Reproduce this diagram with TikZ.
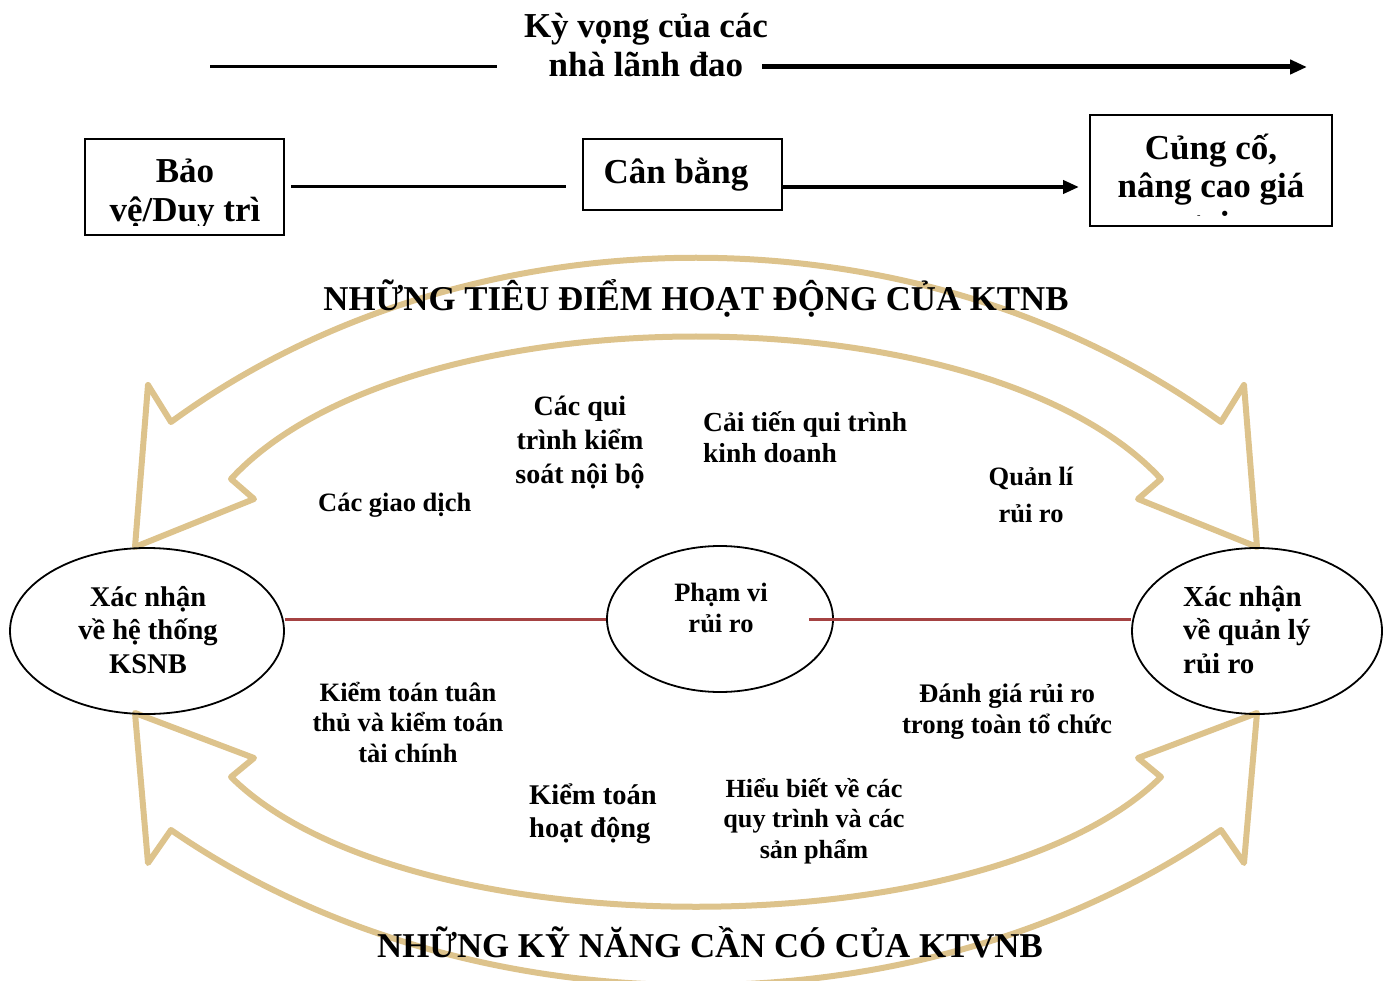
\documentclass[tikz,border=0pt]{standalone}
\usepackage{fontspec}
\setmainfont{Liberation Serif}
\usetikzlibrary{arrows.meta,shapes.geometric}
\definecolor{bandtan}{RGB}{221,195,140}
\definecolor{linkred}{RGB}{165,66,66}
\begin{document}
% multi-line nodes are placed by the baseline of their last line
\begin{tikzpicture}[x=1pt,y=-1pt,
  txt/.style={inner sep=0pt, anchor=base, align=center},
  big/.style={txt, font=\fontsize{35}{39}\selectfont\bfseries},
  framebox/.style={draw=black, line width=2pt, inner sep=0pt, fill=none},
  oval/.style={ellipse, draw=black, line width=1.8pt, inner sep=0pt},
  band/.style={draw=bandtan, line width=6pt, line join=round, line cap=round},
  redlink/.style={draw=linkred, line width=3pt},
  lead/.style={draw=black, line width=3pt},
  leadarrow/.style={draw=black, line width=5pt, -{Triangle[length=17pt,width=14pt]}}
]
\useasboundingbox (0,0) rectangle (1392,981);

% ---- curved band arrows (focus areas on top, skills below) ----
\coordinate (LTo) at (171,422); \coordinate (LTb) at (148,385);
\coordinate (LTt) at (135,547); \coordinate (LTi) at (254,499);
\coordinate (LTn) at (231,479);
\coordinate (RTo) at (1221,422); \coordinate (RTb) at (1244,385);
\coordinate (RTt) at (1257,547); \coordinate (RTi) at (1138,499);
\coordinate (RTn) at (1161,479);
\path[band] (LTo) .. controls (471,203) and (921,203) .. (RTo)
  -- (RTb) -- (RTt) -- (RTi) -- (RTn)
  .. controls (986,289) and (406,289) .. (LTn)
  -- (LTi) -- (LTt) -- (LTb) -- cycle;

\coordinate (LBo) at (171,830); \coordinate (LBb) at (148,863);
\coordinate (LBt) at (135,713); \coordinate (LBi) at (254,758);
\coordinate (LBn) at (231,777);
\coordinate (RBo) at (1221,830); \coordinate (RBb) at (1244,863);
\coordinate (RBt) at (1257,713); \coordinate (RBi) at (1138,758);
\coordinate (RBn) at (1161,777);
\path[band] (LBo) .. controls (471,1037) and (921,1037) .. (RBo)
  -- (RBb) -- (RBt) -- (RBi) -- (RBn)
  .. controls (986,950) and (406,950) .. (LBn)
  -- (LBi) -- (LBt) -- (LBb) -- cycle;

% ---- leaders' expectations ----
\node[big] (kv) at (646,77) {Kỳ vọng của các\\nhà lãnh đao};
\coordinate (kl) at (210,67);
\coordinate (kr) at (1307,67);
\draw[lead] (kl) -- ([xshift=-27pt]kv.west |- kl);
\draw[leadarrow] ([xshift=-6pt]kv.east |- kr) -- (kr);

% ---- three stages ----
\node[framebox, minimum width=199pt, minimum height=96pt] (b1) at (184.5,187) {};
\node[framebox, minimum width=199pt, minimum height=71pt] (b2) at (682.5,174.5) {};
\node[framebox, minimum width=242pt, minimum height=111pt] (b3) at (1211,170.5) {};
\begin{scope}
  \clip ([yshift=10pt]b1.south west) rectangle (b1.north east);
  \node[big] (t1) at (185,222) {Bảo\\vệ/Duy trì};
\end{scope}
\node[big] (t2) at (676,184) {Cân bằng};
\begin{scope}
  \clip ([yshift=11pt]b3.south west) rectangle (b3.north east);
  \node[big, font=\fontsize{35}{38}\selectfont\bfseries] (t3) at (1211,236) {Củng cố,\\nâng cao giá\\trị};
\end{scope}
\draw[lead] ([xshift=6pt]b1.east) -- ([xshift=-16pt]b1.east -| b2.west);
\draw[black, line width=4pt, -{Triangle[length=16pt,width=13pt]}]
  (b1.east -| b2.east) -- ([xshift=-10pt]b1.east -| b3.west);

% ---- titles ----
\node[big, font=\fontsize{34.8}{39}\selectfont\bfseries] (focus) at (696,311) {NHỮNG TIÊU ĐIỂM HOẠT ĐỘNG CỦA KTNB};
\node[big, font=\fontsize{34.8}{39}\selectfont\bfseries] (skills) at (710,957) {NHỮNG KỸ NĂNG CẦN CÓ CỦA KTVNB};

% ---- assurance ovals and risk scope ----
\node[oval, minimum width=274pt, minimum height=166pt] (lell) at (147,631) {};
\node[oval, minimum width=226pt, minimum height=146pt] (mell) at (720,619) {};
\node[oval, minimum width=250pt, minimum height=166pt] (rell) at (1257,631) {};
\draw[redlink] (lell.east |- mell.west) -- (mell.west);
\draw[redlink] ([xshift=-25pt]mell.east) -- (mell.east -| rell.west);

\node[txt, font=\fontsize{28.5}{33.5}\selectfont\bfseries] (lt) at (148,673) {Xác nhận\\về hệ thống\\KSNB};
\node[txt, font=\fontsize{26.5}{31}\selectfont\bfseries] (mt) at (721,632) {Phạm vi\\rủi ro};
\node[txt, anchor=base west, align=left, font=\fontsize{29}{33.5}\selectfont\bfseries] (rt) at (1183,673) {Xác nhận\\về quản lý\\rủi ro};

% ---- focus areas ----
\node[txt, anchor=base west, font=\fontsize{26.5}{31}\selectfont\bfseries] (f1) at (318,511) {Các giao dịch};
\node[txt, font=\fontsize{28}{34}\selectfont\bfseries] (f2) at (580,483) {Các qui\\trình kiểm\\soát nội bộ};
\node[txt, anchor=base west, align=left, font=\fontsize{27.5}{31}\selectfont\bfseries] (f3) at (703,462) {Cải tiến qui trình\\kinh doanh};
\node[txt, font=\fontsize{26.5}{37}\selectfont\bfseries] (f4) at (1031,522) {Quản lí\\rủi ro};

% ---- skills ----
\node[txt, font=\fontsize{26.5}{30.5}\selectfont\bfseries] (s1) at (408,762) {Kiểm toán tuân\\thủ và kiểm toán\\tài chính};
\node[txt, anchor=base west, align=left, font=\fontsize{28.5}{33}\selectfont\bfseries] (s2) at (529,837) {Kiểm toán\\hoạt động};
\node[txt, font=\fontsize{26.2}{30.5}\selectfont\bfseries] (s3) at (814,858) {Hiểu biết về các\\quy trình và các\\sản phẩm};
\node[txt, font=\fontsize{26.8}{31}\selectfont\bfseries] (s4) at (1007,733) {Đánh giá rủi ro\\trong toàn tổ chức};
\end{tikzpicture}
\end{document}
